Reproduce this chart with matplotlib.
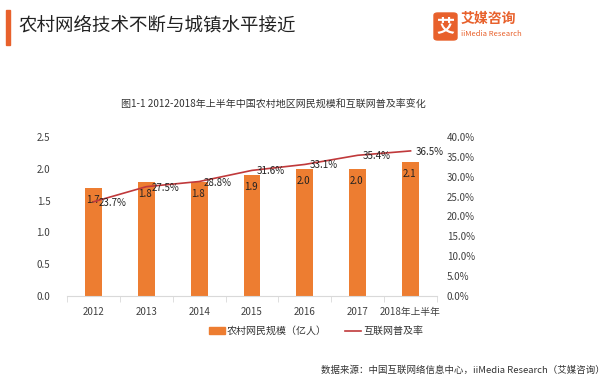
import matplotlib
matplotlib.use("Agg")
import matplotlib.pyplot as plt
from matplotlib.patches import FancyBboxPatch, Rectangle
from matplotlib.lines import Line2D
from matplotlib.patches import Patch

plt.rcParams['font.family'] = ['Noto Sans CJK SC', 'DejaVu Sans']

categories = ["2012", "2013", "2014", "2015", "2016", "2017", "2018年上半年"]
users = [1.7, 1.8, 1.8, 1.9, 2.0, 2.0, 2.1]          # 亿人
rate = [23.7, 27.5, 28.8, 31.6, 33.1, 35.4, 36.5]   # %

ORANGE = "#ED7D31"
RED = "#C0393B"
TXT = "#404040"

fig = plt.figure(figsize=(6.14, 3.82), dpi=100)
W, H = 614, 382

def fx(px):
    return px / W

def fy(py):
    return 1 - py / H

# header
fig.patches.append(Rectangle((fx(6), fy(45)), fx(4), 35 / H, transform=fig.transFigure,
                             color="#E8612C", zorder=3))
fig.text(fx(18), fy(26), "农村网络技术不断与城镇水平接近", fontsize=13.3, color="#222222",
         va="center", ha="left")

# logo
fig.patches.append(FancyBboxPatch((fx(434), fy(40)), fx(23), 27 / H, transform=fig.transFigure,
                                  boxstyle="round,pad=0,rounding_size=0.006", color="#E8612C"))
fig.text(fx(445.5), fy(26), "艾", fontsize=13, color="white", fontweight="bold",
         ha="center", va="center")
fig.text(fx(461), fy(19), "艾媒咨询", fontsize=10, color="#E8612C", fontweight="bold",
         ha="left", va="center")
fig.text(fx(461), fy(34), "iiMedia Research", fontsize=5.5, color="#E8612C",
         ha="left", va="center")

fig.text(fx(273), fy(105), "图1-1 2012-2018年上半年中国农村地区网民规模和互联网普及率变化",
         fontsize=7.2, color="#333333", ha="center", va="center")

ax = fig.add_axes([fx(67), fy(296), fx(437 - 67), (296 - 137) / H])
x = list(range(len(categories)))
ax.bar(x, users, width=0.32, color=ORANGE, zorder=2)
ax.set_xlim(-0.5, len(categories) - 0.5)
ax.set_ylim(0, 2.5)
ax.set_yticks([0, 0.5, 1.0, 1.5, 2.0, 2.5])
ax.set_yticklabels([f"{v:.1f}" for v in [0, 0.5, 1.0, 1.5, 2.0, 2.5]])
ax.set_xticks(x)
ax.set_xticklabels(categories)
ax.set_xticks([i + 0.5 for i in range(-1, len(categories))], minor=True)
ax.tick_params(axis="x", which="major", length=0, pad=8, labelsize=7, labelcolor=TXT)
ax.tick_params(axis="x", which="minor", length=4, color="#D9D9D9")
ax.tick_params(axis="y", length=0, pad=12, labelsize=7, labelcolor=TXT)
for s in ["top", "right", "left"]:
    ax.spines[s].set_visible(False)
ax.spines["bottom"].set_color("#D9D9D9")

for xi, v in zip(x, users):
    ax.annotate(f"{v:.1f}", (xi, v), xytext=(-1, -12), textcoords="offset pixels",
                ha="center", va="center", fontsize=7, color="#222222", zorder=4)

ax2 = ax.twinx()
ax2.plot(x, rate, color=RED, lw=1.2, zorder=3)
ax2.set_ylim(0, 40)
ax2.set_yticks(range(0, 41, 5))
ax2.set_yticklabels([f"{v:.1f}%" for v in range(0, 41, 5)])
ax2.tick_params(axis="y", length=0, pad=7, labelsize=7, labelcolor=TXT)
for s in ["top", "right", "left", "bottom"]:
    ax2.spines[s].set_visible(False)
for xi, v in zip(x, rate):
    ax2.annotate(f"{v:.1f}%", (xi, v), xytext=(5, -1), textcoords="offset pixels",
                 ha="left", va="center", fontsize=7, color="#222222")

handles = [Patch(color=ORANGE), Line2D([0], [0], color=RED, lw=1.2)]
fig.legend(handles, ["农村网民规模（亿人）", "互联网普及率"], loc="center left",
           bbox_to_anchor=(fx(200), fy(331)), ncol=2, frameon=False, fontsize=7.2,
           handlelength=1.6, handleheight=0.6, columnspacing=1.8, handletextpad=0.2,
           labelcolor="#333333")

fig.text(fx(605), fy(370), "数据来源：中国互联网络信息中心，iiMedia Research（艾媒咨询）",
         fontsize=6.8, color="#333333", ha="right", va="center")

fig.savefig("out.png", dpi=100)
